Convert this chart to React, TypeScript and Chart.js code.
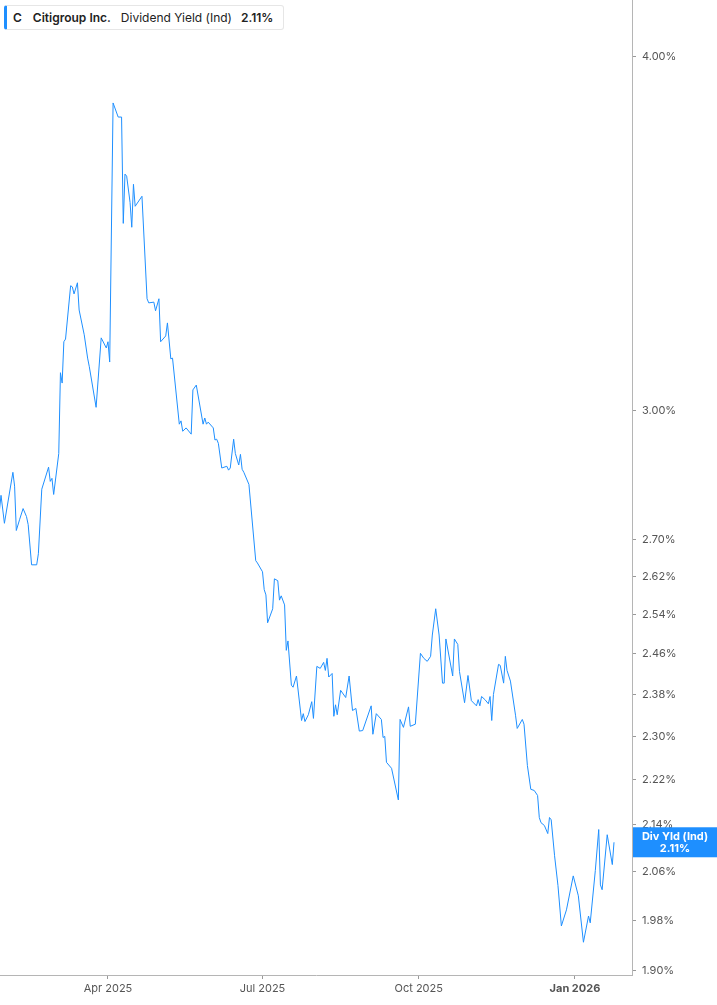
import { useEffect, useRef } from "react";
import { Chart, registerables } from "chart.js";

Chart.register(...registerables);

// trading days, counted as days since 1 Jan 2025
const dayIndex = [
  26, 27, 29, 34, 35, 36, 38, 40, 42, 43, 45, 48, 49, 51, 55, 56, 57, 58, 61, 62,
  63, 64, 65, 68, 69, 70, 72, 73, 76, 78, 79, 83, 86, 89, 90, 91, 93, 96, 98, 99,
  100, 101, 103, 104, 105, 106, 110, 113, 114, 117, 118, 120, 121, 124, 125, 127, 128, 132, 133, 134,
  136, 139, 140, 142, 146, 147, 148, 149, 152, 153, 154, 155, 157, 160, 161, 162, 164, 165, 167, 168,
  169, 170, 173, 177, 178, 181, 182, 183, 184, 187, 188, 190, 191, 192, 194, 195, 196, 198, 199, 201,
  204, 205, 206, 208, 210, 211, 213, 215, 217, 218, 219, 220, 222, 223, 224, 225, 227, 230, 232, 234,
  236, 238, 240, 245, 246, 248, 251, 252, 253, 254, 257, 261, 262, 264, 267, 268, 271, 274, 276, 278,
  280, 281, 283, 285, 287, 288, 289, 293, 294, 296, 297, 300, 302, 304, 307, 308, 309, 310, 312, 314,
  315, 316, 317, 320, 321, 323, 324, 325, 327, 330, 331, 334, 335, 337, 339, 341, 343, 344, 345, 347,
  349, 350, 351, 353, 355, 357, 360, 364, 367, 370, 373, 374, 377, 379, 380, 381, 384, 387, 388,
];

// dividend yield (indicated), %
const yieldPct = [
  2.763, 2.799, 2.736, 2.852, 2.82, 2.72, 2.745, 2.769, 2.751, 2.733, 2.645, 2.645, 2.669, 2.813, 2.864, 2.831, 2.838, 2.801, 2.896, 3.093,
  3.067, 3.172, 3.179, 3.32, 3.317, 3.298, 3.328, 3.255, 3.19, 3.13, 3.108, 3.007, 3.182, 3.156, 3.172, 3.12, 3.853, 3.809, 3.809, 3.493,
  3.636, 3.63, 3.553, 3.482, 3.606, 3.542, 3.571, 3.285, 3.274, 3.276, 3.253, 3.285, 3.172, 3.187, 3.221, 3.128, 3.13, 2.966, 2.974, 2.949,
  2.957, 2.942, 3.05, 3.062, 2.966, 2.981, 2.966, 2.971, 2.957, 2.928, 2.93, 2.92, 2.862, 2.866, 2.857, 2.862, 2.93, 2.896, 2.869, 2.894,
  2.859, 2.852, 2.824, 2.654, 2.649, 2.63, 2.592, 2.581, 2.523, 2.552, 2.615, 2.611, 2.57, 2.579, 2.56, 2.467, 2.486, 2.398, 2.394, 2.416,
  2.33, 2.343, 2.328, 2.341, 2.366, 2.334, 2.435, 2.431, 2.443, 2.427, 2.451, 2.414, 2.421, 2.338, 2.36, 2.341, 2.388, 2.374, 2.416, 2.349,
  2.353, 2.31, 2.311, 2.358, 2.304, 2.343, 2.332, 2.298, 2.3, 2.252, 2.241, 2.184, 2.332, 2.317, 2.356, 2.319, 2.323, 2.461, 2.451, 2.445,
  2.455, 2.498, 2.552, 2.498, 2.402, 2.402, 2.49, 2.416, 2.49, 2.479, 2.425, 2.364, 2.417, 2.368, 2.358, 2.37, 2.358, 2.376, 2.37, 2.362,
  2.376, 2.33, 2.38, 2.439, 2.437, 2.402, 2.455, 2.427, 2.406, 2.34, 2.315, 2.332, 2.323, 2.246, 2.203, 2.201, 2.192, 2.153, 2.144, 2.139,
  2.125, 2.153, 2.149, 2.087, 2.037, 1.971, 1.997, 2.053, 2.02, 1.945, 1.987, 1.976, 2.062, 2.132, 2.038, 2.03, 2.123, 2.072, 2.11,
];

const xTickDays = [90, 181, 273, 365];
const xTickLabels = ["Apr 2025", "Jul 2025", "Oct 2025", "Jan 2026"];
const yTickValues = [1.9, 1.98, 2.06, 2.14, 2.22, 2.3, 2.38, 2.46, 2.54, 2.62, 2.7, 3.0, 4.0];

const BLUE = "#1e8fff";
const FONT = "Inter, 'Noto Sans', sans-serif";

const lastTag = {
  id: "lastTag",
  afterDraw(chart: any) {
    const { ctx, chartArea } = chart;
    const last = yieldPct[yieldPct.length - 1];
    const y = chart.scales.y.getPixelForValue(last);
    const left = chartArea.right + 1;
    const w = chart.width - left;
    ctx.save();
    ctx.fillStyle = BLUE;
    ctx.fillRect(left, y - 15, w, 30);
    ctx.fillStyle = "#ffffff";
    ctx.font = "bold 11px " + FONT;
    ctx.textAlign = "center";
    ctx.textBaseline = "middle";
    ctx.fillText("Div Yld (Ind)", left + w / 2, y - 6);
    ctx.fillText(last.toFixed(2) + "%", left + w / 2, y + 6);
    ctx.restore();
  },
};

export default function App() {
  const ref = useRef<HTMLCanvasElement | null>(null);

  useEffect(() => {
    if (!ref.current) return;
    const chart = new Chart(ref.current, {
      type: "line",
      data: {
        datasets: [
          {
            label: "Dividend Yield (Ind)",
            data: dayIndex.map((d, i) => ({ x: d, y: yieldPct[i] })),
            borderColor: BLUE,
            borderWidth: 1,
            pointRadius: 0,
            tension: 0,
            fill: false,
          },
        ],
      },
      options: {
        animation: false,
        responsive: true,
        maintainAspectRatio: false,
        layout: { padding: 0 },
        plugins: {
          legend: { display: false },
          tooltip: { enabled: false },
        },
        scales: {
          x: {
            type: "linear",
            min: 26.4,
            max: 398.6,
            afterBuildTicks: (scale: any) => {
              scale.ticks = xTickDays.map((v) => ({ value: v }));
            },
            afterFit: (scale: any) => {
              scale.height = 30;
              scale.paddingLeft = 0;
              scale.paddingRight = 0;
            },
            grid: {
              drawOnChartArea: false,
              drawTicks: true,
              tickLength: 4,
              color: "#999999",
            },
            border: { color: "#b5b5b5", width: 1 },
            ticks: {
              autoSkip: false,
              maxRotation: 0,
              padding: 3,
              color: "#555555",
              font: (c: any) => ({
                family: FONT,
                size: 11,
                weight: c.tick && c.tick.value === 365 ? "bold" : "normal",
              }),
              callback: (value: any) => {
                const i = xTickDays.indexOf(Number(value));
                return i >= 0 ? xTickLabels[i] : "";
              },
            },
          },
          y: {
            type: "logarithmic",
            position: "right",
            min: 1.8938,
            max: 4.19,
            afterBuildTicks: (scale: any) => {
              scale.ticks = yTickValues.map((v) => ({ value: v }));
            },
            afterFit: (scale: any) => {
              scale.width = 85;
              scale.paddingTop = 0;
              scale.paddingBottom = 0;
            },
            grid: {
              drawOnChartArea: false,
              drawTicks: true,
              tickLength: 4,
              color: "#999999",
            },
            border: { color: "#b5b5b5", width: 1 },
            ticks: {
              autoSkip: false,
              padding: 6,
              color: "#555555",
              font: { family: FONT, size: 11 },
              callback: (value: any) => Number(value).toFixed(2) + "%",
            },
          },
        },
      },
      plugins: [lastTag],
    });
    return () => chart.destroy();
  }, []);

  return (
    <div style={{ position: "absolute", left: 0, top: 0, width: 717, height: 1005, background: "#fff" }}>
      <canvas ref={ref}></canvas>
      <div
        style={{
          position: "absolute",
          left: 4,
          top: 5,
          width: 280,
          height: 25,
          boxSizing: "border-box",
          border: "1px solid #e6e6e6",
          borderLeft: "3px solid " + BLUE,
          borderRadius: 3,
          background: "#fff",
          display: "flex",
          alignItems: "center",
          paddingLeft: 6,
          fontFamily: FONT,
          fontSize: 12,
          color: "#222",
          whiteSpace: "nowrap",
        }}
      >
        <span style={{ fontWeight: 600, marginRight: 11 }}>C</span>
        <span style={{ fontWeight: 600, marginRight: 10 }}>Citigroup Inc.</span>
        <span style={{ marginRight: 9 }}>Dividend Yield (Ind)</span>
        <span style={{ fontWeight: 600 }}>2.11%</span>
      </div>
    </div>
  );
}
